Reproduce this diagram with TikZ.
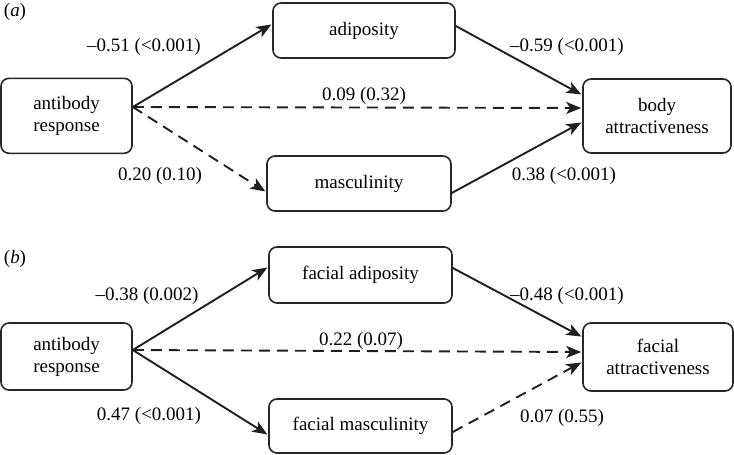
\documentclass[tikz,border=0pt]{standalone}
\usepackage{fontspec}
\setmainfont{Liberation Serif}
\usetikzlibrary{arrows.meta,calc}
\tikzset{
  box/.style={draw=black!85, line width=1.6pt, rounded corners=8pt, align=center, inner sep=0pt, font=\fontsize{19}{22}\selectfont},
  conn/.style={line width=1.9pt, draw=black!88, -{Stealth[length=15pt,width=12pt,inset=4pt]}, shorten >=1pt},
  dashconn/.style={conn, dash pattern=on 11pt off 7pt},
  lab/.style={font=\fontsize{19}{22}\selectfont, inner sep=0pt},
  plab/.style={font=\fontsize{19}{22}\selectfont, inner sep=0pt}
}
\begin{document}
\begin{tikzpicture}[x=1pt,y=-1pt]
\useasboundingbox (0,0) rectangle (734,455);
% panel (a)
\node[plab] (pa) at (15,12) {(\textit{a})};
\node[box, minimum width=131pt, minimum height=75pt] (ab1) at (66.5,115.8) {antibody\\response};
\node[box, minimum width=182pt, minimum height=55pt] (adi) at (364,30.5) {adiposity};
\node[box, minimum width=184pt, minimum height=55pt] (mas) at (359,183.5) {masculinity};
\node[box, minimum width=148pt, minimum height=74pt] (body) at (657,116) {body\\attractiveness};
\draw[conn] ([yshift=8.8pt]ab1.east) -- ([yshift=6.5pt]adi.west);
\draw[dashconn] ([yshift=8.8pt]ab1.east) -- ([yshift=8pt]body.west);
\draw[dashconn] ([yshift=8.8pt]ab1.east) -- ([yshift=-8.5pt]mas.west);
\draw[conn] ([yshift=4.5pt]adi.east) -- ([yshift=21pt]body.west);
\draw[conn] ([yshift=-9.5pt]mas.east) -- ([yshift=-6pt]body.west);
\node[lab] (l1) at (144,47) {–0.51 (<0.001)};
\node[lab] (l2) at (160,176) {0.20 (0.10)};
\node[lab] (l3) at (364,96) {0.09 (0.32)};
\node[lab] (l4) at (567,47) {–0.59 (<0.001)};
\node[lab] (l5) at (564,176) {0.38 (<0.001)};
% panel (b)
\node[plab] (pb) at (15,259) {(\textit{b})};
\node[box, minimum width=131pt, minimum height=67pt] (ab2) at (66.5,356.5) {antibody\\response};
\node[box, minimum width=183pt, minimum height=56pt] (fadi) at (360.5,275) {facial adiposity};
\node[box, minimum width=183pt, minimum height=54pt] (fmas) at (360.5,426) {facial masculinity};
\node[box, minimum width=150pt, minimum height=68pt] (fatt) at (658,357) {facial\\attractiveness};
\draw[conn] ([yshift=6.5pt]ab2.east) -- ([yshift=8pt]fadi.west);
\draw[dashconn] ([yshift=6.5pt]ab2.east) -- ([yshift=5pt]fatt.west);
\draw[conn] ([yshift=6.5pt]ab2.east) -- ([yshift=-9pt]fmas.west);
\draw[conn] ([yshift=7pt]fadi.east) -- ([yshift=20pt]fatt.west);
\draw[dashconn] ([yshift=-6pt]fmas.east) -- ([yshift=-5pt]fatt.west);
\node[lab] (m1) at (147,296) {–0.38 (0.002)};
\node[lab] (m2) at (149,416) {0.47 (<0.001)};
\node[lab] (m3) at (361,341) {0.22 (0.07)};
\node[lab] (m4) at (567,296) {–0.48 (<0.001)};
\node[lab] (m5) at (562,418) {0.07 (0.55)};
\end{tikzpicture}
\end{document}
